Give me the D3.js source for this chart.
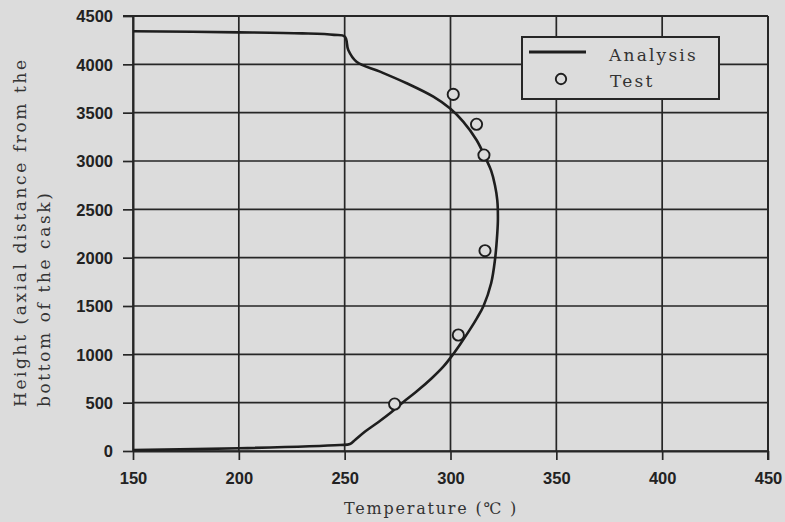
<!DOCTYPE html>
<html>
<head>
<meta charset="utf-8">
<script src="https://cdn.jsdelivr.net/npm/d3@7"></script>
<style>
  body { margin: 0; background: #dcdcdc; }
  svg { display: block; }
</style>
</head>
<body>
<div id="chart"></div>
<script>
// Analysis curve (temperature, height), read from top to bottom
const curveT = [150, 200, 230, 245, 250.1, 251.7, 255.6, 266.7, 279.3, 291.9, 299.7, 306, 312.3, 317, 319.2, 321, 322.1, 322.4, 322.1, 321, 319.2, 315.6, 312.5, 309, 305.2, 301.2, 296.7, 291, 284.5, 277.3, 272, 266, 259.5, 254.9, 252.5, 247.8, 200, 150];
const curveH = [4342, 4331, 4320, 4305, 4286, 4148, 4027, 3924, 3804, 3665, 3545, 3407, 3217, 3010, 2900, 2750, 2596, 2400, 2252, 1976, 1735, 1500, 1375, 1250, 1125, 1000, 875, 750, 625, 500, 400, 300, 200, 114, 72, 62, 28, 10];

// Test points
const testT = [301.3, 312.3, 315.8, 316.3, 303.7, 273.6];
const testH = [3689, 3380, 3062, 2072, 1200, 486];

const xTicks = [150, 200, 250, 300, 350, 400, 450];
const yTicks = [0, 500, 1000, 1500, 2000, 2500, 3000, 3500, 4000, 4500];

const W = 785, H = 522;
const margin = { top: 16, right: 17, bottom: 71, left: 133 };
const ink = "#262626";
const bg = "#dcdcdc";

const svg = d3.select("#chart").append("svg")
    .attr("width", W)
    .attr("height", H);

svg.append("rect").attr("width", W).attr("height", H).attr("fill", bg);

const x = d3.scaleLinear().domain([150, 450]).range([margin.left, W - margin.right]);
const y = d3.scaleLinear().domain([0, 4500]).range([H - margin.bottom, margin.top]);

// Grid
const grid = svg.append("g").attr("class", "grid");
grid.selectAll(".gv").data(xTicks).enter().append("line")
    .attr("class", "gv")
    .attr("x1", d => x(d)).attr("x2", d => x(d))
    .attr("y1", y(4500)).attr("y2", y(0))
    .attr("stroke", ink).attr("stroke-width", 1.7);
grid.selectAll(".gh").data(yTicks).enter().append("line")
    .attr("class", "gh")
    .attr("y1", d => y(d)).attr("y2", d => y(d))
    .attr("x1", x(150)).attr("x2", x(450))
    .attr("stroke", ink).attr("stroke-width", 1.7);

// Axes
const xAxis = svg.append("g")
    .attr("transform", `translate(0,${y(0)})`)
    .call(d3.axisBottom(x).tickValues(xTicks).tickFormat(d3.format("d"))
        .tickSize(9).tickPadding(12).tickSizeOuter(0));
const yAxis = svg.append("g")
    .attr("transform", `translate(${x(150)},0)`)
    .call(d3.axisLeft(y).tickValues(yTicks).tickFormat(d3.format("d"))
        .tickSize(10).tickPadding(10).tickSizeOuter(0));

[xAxis, yAxis].forEach(a => {
    a.select(".domain").attr("stroke", ink).attr("stroke-width", 2);
    a.selectAll(".tick line").attr("stroke", ink).attr("stroke-width", 1.7);
    a.selectAll(".tick text")
        .attr("fill", "#222")
        .style("font-family", "'Liberation Sans', Arial, sans-serif")
        .style("font-weight", "bold")
        .style("font-size", "16.5px");
});
yAxis.selectAll(".tick text").attr("dy", "0.36em");

// Top and right frame
svg.append("line").attr("x1", x(150) - 10).attr("x2", x(450))
    .attr("y1", y(4500)).attr("y2", y(4500)).attr("stroke", ink).attr("stroke-width", 2);
svg.append("line").attr("x1", x(450)).attr("x2", x(450))
    .attr("y1", y(4500)).attr("y2", y(0) + 9).attr("stroke", ink).attr("stroke-width", 2);

// Analysis line
const pts = curveT.map((t, i) => [t, curveH[i]]);
const line = d3.line()
    .x(d => x(d[0]))
    .y(d => y(d[1]))
    .curve(d3.curveCatmullRom.alpha(0.5));

svg.append("path")
    .datum(pts)
    .attr("d", line)
    .attr("fill", "none")
    .attr("stroke", "#1e1e1e")
    .attr("stroke-width", 2.6);

// Test points
svg.append("g").selectAll("circle").data(testT).enter().append("circle")
    .attr("cx", d => x(d))
    .attr("cy", (d, i) => y(testH[i]))
    .attr("r", 5.6)
    .attr("fill", bg)
    .attr("stroke", "#1e1e1e")
    .attr("stroke-width", 1.9);

// Legend
const serif = "'DejaVu Serif', 'Liberation Serif', serif";
const lg = svg.append("g");
lg.append("rect")
    .attr("x", 522).attr("y", 37).attr("width", 197).attr("height", 62)
    .attr("fill", bg).attr("stroke", ink).attr("stroke-width", 2);
lg.append("line").attr("x1", 529).attr("x2", 586).attr("y1", 52).attr("y2", 52)
    .attr("stroke", "#1e1e1e").attr("stroke-width", 3);
lg.append("circle").attr("cx", 561).attr("cy", 79).attr("r", 5.2)
    .attr("fill", "none").attr("stroke", "#1e1e1e").attr("stroke-width", 1.9);
lg.append("text").attr("x", 609).attr("y", 61).text("Analysis")
    .attr("fill", "#333").style("font-family", serif).style("font-size", "17px")
    .style("letter-spacing", "2.2px");
lg.append("text").attr("x", 610).attr("y", 87).text("Test")
    .attr("fill", "#333").style("font-family", serif).style("font-size", "17px")
    .style("letter-spacing", "2.2px");

// Axis titles
svg.append("text")
    .attr("x", 431).attr("y", 514)
    .attr("text-anchor", "middle")
    .attr("fill", "#333")
    .style("font-family", serif).style("font-size", "16px")
    .style("letter-spacing", "1.8px")
    .text("Temperature (℃ )");

const yt = svg.append("g").attr("fill", "#333")
    .style("font-family", serif).style("font-size", "17px")
    .style("letter-spacing", "2.6px");
yt.append("text")
    .attr("transform", "translate(26,407) rotate(-90)")
    .text("Height (axial distance from the");
yt.append("text")
    .attr("transform", "translate(50,407) rotate(-90)")
    .text("bottom of the cask)");
</script>
</body>
</html>
